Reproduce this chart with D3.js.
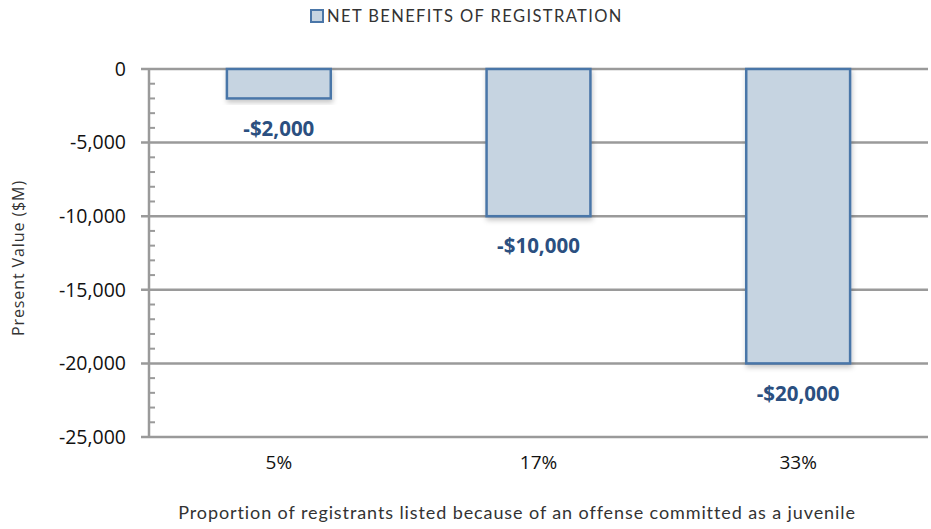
<!DOCTYPE html>
<html>
<head>
<meta charset="utf-8">
<script src="https://cdn.jsdelivr.net/npm/d3@7"></script>
<style>
  body { margin: 0; background: #fff; }
  svg { display: block; }
</style>
</head>
<body>
<svg id="chart" width="931" height="529"></svg>
<script>
// data
const categories = ['5%', '17%', '33%'];
const values = [-2000, -10000, -20000];
const valueLabels = ['-$2,000', '-$10,000', '-$20,000'];
const yTicks = [0, -5000, -10000, -15000, -20000, -25000];
const seriesName = 'NET BENEFITS OF REGISTRATION';

const svg = d3.select('#chart');
const mLeft = 149, mRight = 928, mTop = 69, mBottom = 437;

const x = d3.scaleBand().domain(categories).range([mLeft, mRight]).paddingInner(0.6).paddingOuter(0.3);
const y = d3.scaleLinear().domain([-25000, 0]).range([mBottom, mTop]);

const defs = svg.append('defs');
const f = defs.append('filter').attr('id', 'shadow').attr('x', '-10%').attr('y', '-10%').attr('width', '130%').attr('height', '130%');
f.append('feDropShadow').attr('dx', 1).attr('dy', 3).attr('stdDeviation', 2.5)
  .attr('flood-color', '#000').attr('flood-opacity', 0.22);

// minor ticks
const minor = d3.range(-25000, 1, 1000).filter(v => v % 5000 !== 0);
svg.append('g').selectAll('line').data(minor).join('line')
  .attr('x1', mLeft).attr('x2', mLeft + 6)
  .attr('y1', d => y(d)).attr('y2', d => y(d))
  .attr('stroke', '#9a9a9a').attr('stroke-width', 2);

// gridlines + major ticks
svg.append('g').selectAll('line').data(yTicks).join('line')
  .attr('x1', mLeft - 8).attr('x2', mRight)
  .attr('y1', d => y(d)).attr('y2', d => y(d))
  .attr('stroke', '#9a9a9a').attr('stroke-width', 2.5);

// axis line
svg.append('line')
  .attr('x1', mLeft).attr('x2', mLeft)
  .attr('y1', mTop).attr('y2', mBottom)
  .attr('stroke', '#9a9a9a').attr('stroke-width', 2.5);

// y tick labels
svg.append('g').selectAll('text').data(yTicks).join('text')
  .attr('x', mLeft - 23).attr('y', d => y(d))
  .attr('dy', '0.35em')
  .attr('text-anchor', 'end')
  .attr('font-family', 'Open Sans, sans-serif')
  .attr('font-size', 19.5)
  .attr('fill', '#111')
  .text(d => d3.format(',')(d).replace('−', '-'));

// bars
svg.append('g').selectAll('rect').data(values).join('rect')
  .attr('x', (d, i) => x(categories[i]))
  .attr('y', y(0))
  .attr('width', x.bandwidth())
  .attr('height', d => y(d) - y(0))
  .attr('fill', '#c6d4e1')
  .attr('stroke', '#4a76a8')
  .attr('stroke-width', 2.5)
  .attr('filter', 'url(#shadow)');

// value labels
svg.append('g').selectAll('text').data(values).join('text')
  .attr('x', (d, i) => x(categories[i]) + x.bandwidth() / 2)
  .attr('y', d => y(d) + 30)
  .attr('dy', '0.35em')
  .attr('text-anchor', 'middle')
  .attr('font-family', 'Open Sans, sans-serif')
  .attr('font-weight', 'bold')
  .attr('font-size', 20.5)
  .attr('fill', '#2b4f80')
  .text((d, i) => valueLabels[i]);

// x category labels
svg.append('g').selectAll('text').data(categories).join('text')
  .attr('x', d => x(d) + x.bandwidth() / 2)
  .attr('y', 462)
  .attr('dy', '0.35em')
  .attr('text-anchor', 'middle')
  .attr('font-family', 'Open Sans, sans-serif')
  .attr('font-size', 19)
  .attr('fill', '#111')
  .text(d => d);

// axis titles
svg.append('text')
  .attr('x', 517).attr('y', 513)
  .attr('dy', '0.35em')
  .attr('text-anchor', 'middle')
  .attr('font-family', 'Lato, sans-serif')
  .attr('font-size', 18)
  .attr('letter-spacing', 0.9)
  .attr('fill', '#333')
  .text('Proportion of registrants listed because of an offense committed as a juvenile');

svg.append('text')
  .attr('transform', 'translate(18,258) rotate(-90)')
  .attr('dy', '0.35em')
  .attr('text-anchor', 'middle')
  .attr('font-family', 'Open Sans, sans-serif')
  .attr('font-size', 16)
  .attr('letter-spacing', 0.9)
  .attr('fill', '#333')
  .text('Present Value ($M)');

// legend
const lg = svg.append('g').attr('transform', 'translate(311,16)');
lg.append('rect').attr('x', 0).attr('y', -6).attr('width', 12).attr('height', 12)
  .attr('fill', '#c6d4e1').attr('stroke', '#4a76a8').attr('stroke-width', 2);
lg.append('text').attr('x', 16).attr('y', 0).attr('dy', '0.35em')
  .attr('font-family', 'Lato, sans-serif').attr('font-size', 16.5)
  .attr('letter-spacing', 1.4)
  .attr('fill', '#333').text(seriesName);
</script>
</body>
</html>
